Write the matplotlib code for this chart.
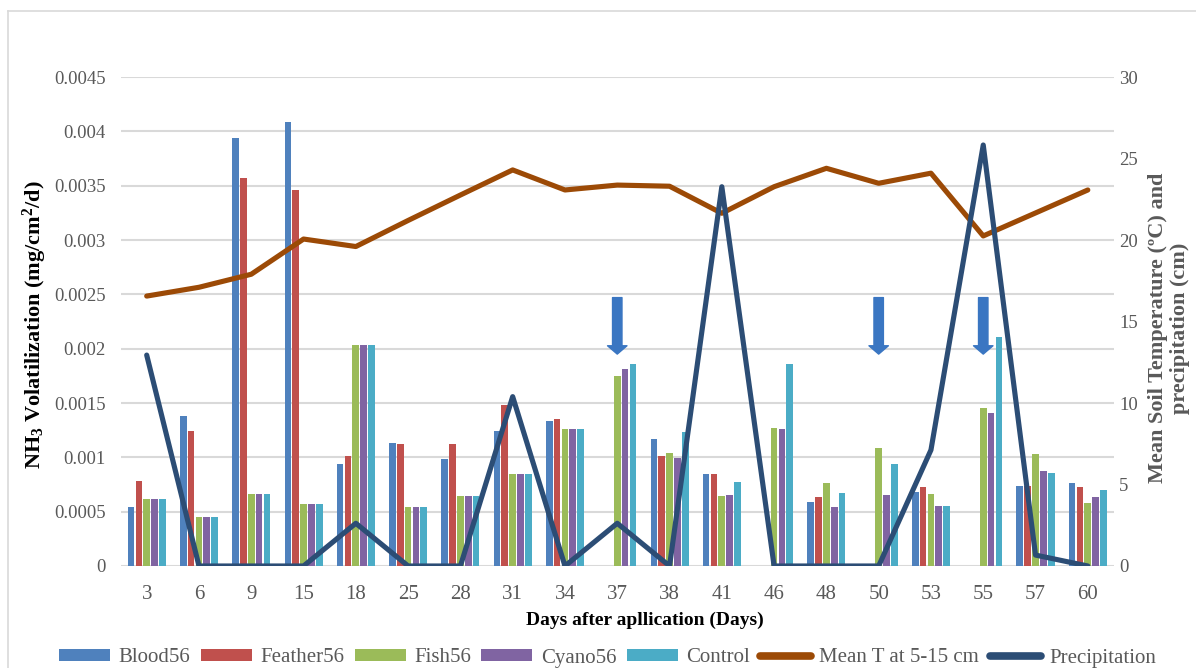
import numpy as np
import matplotlib
matplotlib.use("Agg")
import matplotlib.pyplot as plt
from matplotlib.lines import Line2D
from matplotlib.patches import Patch

plt.rcParams['font.family'] = ['Liberation Serif', 'DejaVu Serif']
plt.rcParams['mathtext.fontset'] = 'custom'
plt.rcParams['mathtext.rm'] = 'Liberation Serif:bold'
plt.rcParams['mathtext.default'] = 'rm'

# data
days = ['3', '6', '9', '15', '18', '25', '28', '31', '34', '37', '38', '41', '46', '48', '50', '53', '55', '57', '60']
blood = [0.000546, 0.00138, 0.003935, 0.004083, 0.000939, 0.00113, 0.000985, 0.00124, 0.00133, 0,
         0.001166, 0.000844, 0, 0.000586, 0, 0.000678, 0, 0.000736, 0.000764]
feather = [0.000782, 0.00124, 0.003567, 0.00346, 0.00101, 0.00112, 0.00112, 0.00148, 0.00135, 0,
           0.001015, 0.00085, 0, 0.000632, 0, 0.00073, 0, 0.000736, 0.00073]
fish = [0.000614, 0.000448, 0.00066, 0.000568, 0.002034, 0.000546, 0.000647, 0.000844, 0.00126, 0.00175,
        0.001037, 0.000644, 0.001267, 0.000764, 0.001086, 0.000663, 0.001457, 0.001034, 0.000577]
cyano = [0.000614, 0.000448, 0.00066, 0.000568, 0.002034, 0.000546, 0.000647, 0.000844, 0.00126, 0.00181,
         0.00099, 0.000653, 0.001258, 0.00054, 0.000653, 0.000555, 0.00141, 0.000871, 0.000638]
control = [0.000614, 0.000448, 0.00066, 0.000568, 0.002034, 0.000546, 0.000647, 0.000844, 0.00126, 0.00186,
           0.00123, 0.00077, 0.001856, 0.000672, 0.000936, 0.000555, 0.002107, 0.000853, 0.0007]
mean_t = [16.56, 17.1, 17.9, 20.06, 19.6, 21.2, 22.76, 24.3, 23.07, 23.37,
          23.3, 21.64, 23.27, 24.4, 23.48, 24.1, 20.25, 21.66, 23.07]
precip = [12.94, 0, 0, 0, 2.62, 0, 0, 10.39, 0, 2.62,
          0, 23.27, 0, 0, 0, 7.12, 25.83, 0.67, 0]
arrow_days = ['37', '50', '55']

series = [('Blood56', blood, '#4F81BD'), ('Feather56', feather, '#C0504D'),
          ('Fish56', fish, '#9BBB59'), ('Cyano56', cyano, '#8064A2'),
          ('Control', control, '#4BACC6')]

fig = plt.figure(figsize=(11.96, 6.68), dpi=100)
ax = fig.add_axes([0.1008, 0.1527, 0.8306, 0.732])
x = np.arange(len(days))

for k, (name, vals, col) in enumerate(series):
    ax.bar(x + (k - 2) * 0.15, vals, width=0.128, color=col, edgecolor='none', zorder=2)

ax.set_xlim(-0.5, len(days) - 0.5)
ax.set_ylim(0, 0.0045)
ax.set_yticks(np.arange(0, 0.00451, 0.0005))
ax.set_yticklabels(['0', '0.0005', '0.001', '0.0015', '0.002', '0.0025', '0.003', '0.0035', '0.004', '0.0045'])
ax.set_xticks(x)
ax.set_xticklabels(days)
ax.grid(axis='y', color='#D9D9D9', lw=1.5, zorder=0)
ax.set_axisbelow(True)
for s in ax.spines.values():
    s.set_visible(False)
ax.tick_params(axis='y', length=0, labelsize=13.5, labelcolor='#595959', pad=10.5)
ax.tick_params(axis='x', length=0, labelsize=15, labelcolor='#595959', pad=14)

# arrows marking events
for d in arrow_days:
    i = days.index(d)
    ax.annotate('', xy=(i, 0.00195), xytext=(i, 0.00247),
                arrowprops=dict(arrowstyle='simple,head_length=0.3,head_width=0.7,tail_width=0.34',
                                mutation_scale=20, color='#3A76C2', shrinkA=0, shrinkB=0), zorder=3)

ax2 = ax.twinx()
ax2.set_ylim(0, 30)
ax2.set_yticks(range(0, 31, 5))
for s in ax2.spines.values():
    s.set_visible(False)
ax2.tick_params(axis='y', length=0, labelsize=13.5, labelcolor='#595959', pad=3.8)
ax2.plot(x, mean_t, color='#9C4A06', lw=3.7, solid_joinstyle='round', solid_capstyle='round')
ax2.plot(x, precip, color='#2C4D75', lw=3.7, solid_joinstyle='round', solid_capstyle='round')

fig.text(35 / 1196, 1 - 325 / 668, 'NH$_3$ Volatilization (mg/cm$^2$/d)', rotation=90,
         ha='center', va='center', fontsize=16, fontweight='bold')
fig.text(1169 / 1196, 1 - 328 / 668, 'Mean Soil Temperature (ºC) and\nprecipitation (cm)', rotation=90,
         ha='center', va='center', fontsize=16, fontweight='bold', color='#595959', linespacing=1.15)
fig.text(645 / 1196, 1 - 620 / 668, 'Days after apllication (Days)', ha='center', va='center',
         fontsize=14, fontweight='bold')

# chart frame
fig.add_artist(Line2D([8 / 1196, 8 / 1196], [0, 1 - 11 / 668], color='#D9D9D9', lw=1.2))
fig.add_artist(Line2D([8 / 1196, 1], [1 - 11 / 668, 1 - 11 / 668], color='#D9D9D9', lw=1.2))

handles = [Patch(facecolor=c, edgecolor='none') for _, _, c in series]
handles += [Line2D([], [], color='#9C4A06', lw=5.5, solid_capstyle='round'),
            Line2D([], [], color='#2C4D75', lw=5.5, solid_capstyle='round')]
labels = [n for n, _, _ in series] + ['Mean T at 5-15 cm', 'Precipitation']
fig.legend(handles, labels, loc='center', bbox_to_anchor=(607.6 / 1196, 1 - 658 / 668), ncol=7,
           frameon=False, fontsize=15, labelcolor='#595959', handlelength=2.45, handleheight=0.56,
           handletextpad=0.4, columnspacing=0.5, borderaxespad=0, borderpad=0)

fig.savefig('out.png', dpi=100)
